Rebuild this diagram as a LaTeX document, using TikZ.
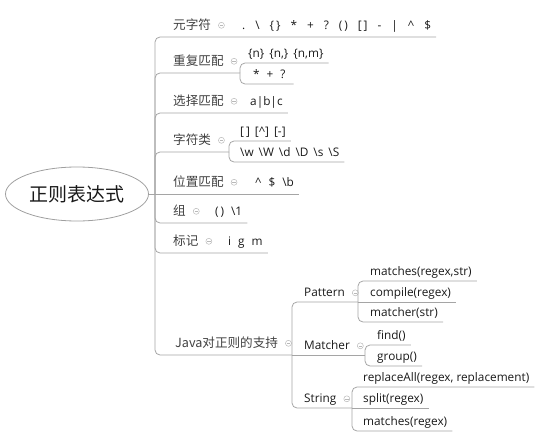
\documentclass[tikz,border=0pt]{standalone}
\usepackage{fontspec}
\setmainfont{Open Sans}
\newfontfamily\cjk{Noto Sans CJK SC}
\usepackage{xcolor}
\definecolor{wire}{RGB}{165,165,165}
\definecolor{ink}{RGB}{25,25,25}
\definecolor{muted}{RGB}{65,65,65}
\definecolor{ring}{RGB}{185,185,185}
\usetikzlibrary{positioning,shapes.geometric}
\newcommand{\gap}{\hspace{10pt}}
\newcommand{\sgap}{\hspace{5pt}}

\begin{document}
\begin{tikzpicture}[
  x=1pt, y=-1pt,
  link/.style={draw=wire, line width=0.8pt, rounded corners=5pt},
  topic/.style={anchor=south west, inner xsep=5pt, inner ysep=4.5pt, text height=9pt, text depth=3pt, font=\cjk\fontsize{12.6}{14}\selectfont, text=muted},
  item/.style={topic, font=\fontsize{11.8}{13}\selectfont, text=ink},
  leaf/.style={item, inner ysep=2pt},
  fold/.style={circle, draw=ring, line width=0.5pt, inner sep=0pt, minimum size=6pt, yshift=1pt,
    path picture={\draw[ring, line width=0.5pt] ([xshift=-1.7pt]path picture bounding box.center) -- ([xshift=1.7pt]path picture bounding box.center);}},
  rootbox/.style={ellipse, draw=gray!75, line width=0.8pt, minimum width=143pt, minimum height=54pt, inner sep=0pt, font=\cjk\fontsize{19}{22}\selectfont, text=ink}
]
\useasboundingbox (0,0) rectangle (554,436);

\node[rootbox] (root) at (77,194) {正则表达式};
\coordinate (trunk) at (155,194);

% first level
\node[topic] (yuan) at (168,37) {元字符};
\node[fold, right=2pt of yuan] (yuanm) {};
\node[item] (yuanc) at (237,37) {.\gap\textbackslash\gap\{\,\}\gap*\gap+\gap?\gap(\,)\gap[\,]\gap-\gap|\gap\textasciicircum\gap\$};

\node[topic] (chong) at (168,73) {重复匹配};
\node[fold, right=2pt of chong] (chongm) {};
\coordinate (chongT) at (240,73);
\node[leaf] (chong1) at (243,63) {\{n\}\sgap\{n,\}\sgap\{n,m\}};
\node[leaf, inner xsep=8pt] (chong2) at (245,84) {*\hspace{7pt}+\hspace{7pt}?};

\node[topic] (xuan) at (168,113) {选择匹配};
\node[fold, right=2pt of xuan] (xuanm) {};
\node[item] (xuanc) at (245,113) {a|b|c};

\node[topic] (zifu) at (168,152) {字符类};
\node[fold, right=2pt of zifu] (zifum) {};
\coordinate (zifuT) at (229,152);
\node[leaf] (zifu1) at (235,141) {[\,]\sgap[\textasciicircum]\sgap[-]};
\node[leaf] (zifu2) at (235,162) {\textbackslash w\sgap\textbackslash W\sgap\textbackslash d\sgap\textbackslash D\sgap\textbackslash s\sgap\textbackslash S};

\node[topic] (wei) at (168,194) {位置匹配};
\node[fold, right=2pt of wei] (weim) {};
\node[item] (weic) at (250,194) {\textasciicircum\hspace{7pt}\$\hspace{7pt}\textbackslash b};

\node[topic] (zu) at (168,223) {组};
\node[fold, right=2pt of zu] (zum) {};
\node[item] (zuc) at (210,223) {(\,)\hspace{7pt}\textbackslash 1};

\node[topic] (biao) at (168,253) {标记};
\node[fold, right=2pt of biao] (biaom) {};
\node[item] (biaoc) at (223,253) {i\hspace{7pt}g\hspace{7pt}m};

\node[topic] (java) at (170,355) {Java对正则的支持};
\node[fold, right=2pt of java] (javam) {};
\coordinate (javaT) at (292,355);

% java classes
\node[leaf] (pat) at (299,302) {Pattern};
\node[fold, right=2pt of pat] (patm) {};
\coordinate (patT) at (358,302);
\node[leaf] (pat1) at (365,281) {matches(regex,str)};
\node[leaf] (pat2) at (365,302) {compile(regex)};
\node[leaf] (pat3) at (365,322) {matcher(str)};

\node[leaf] (mat) at (299,355) {Matcher};
\node[fold, right=2pt of mat] (matm) {};
\coordinate (matT) at (365,355);
\node[leaf] (mat1) at (372,345) {find()};
\node[leaf] (mat2) at (372,366) {group()};

\node[leaf] (str) at (299,408) {String};
\node[fold, right=2pt of str] (strm) {};
\coordinate (strT) at (352,408);
\node[leaf] (str1) at (358,387) {replaceAll(regex, replacement)};
\node[leaf] (str2) at (358,408) {split(regex)};
\node[leaf] (str3) at (358,431) {matches(regex)};

% connectors
\draw[link] (root.east) -- (trunk);
\draw[link] (trunk) |- (yuanc.south east);
\draw[link] (trunk) |- (chongT);
\draw[link] (chongT) |- (chong1.south east);
\draw[link] (chongT) |- (chong2.south east);
\draw[link] (trunk) |- (xuanc.south east);
\draw[link] (trunk) |- (zifuT);
\draw[link] (zifuT) |- (zifu1.south east);
\draw[link] (zifuT) |- (zifu2.south east);
\draw[link] (trunk) -- (weic.south east);
\draw[link] (trunk) |- (zuc.south east);
\draw[link] (trunk) |- (biaoc.south east);
\draw[link] (trunk) |- (javaT);
\draw[link] (javaT) |- (patT);
\draw[link] (patT) |- (pat1.south east);
\draw[link] (patT) -- (pat2.south east);
\draw[link] (patT) |- (pat3.south east);
\draw[link] (javaT) -- (matT);
\draw[link] (matT) |- (mat1.south east);
\draw[link] (matT) |- (mat2.south east);
\draw[link] (javaT) |- (strT);
\draw[link] (strT) |- (str1.south east);
\draw[link] (strT) -- (str2.south east);
\draw[link] (strT) |- (str3.south east);
\end{tikzpicture}
\end{document}
